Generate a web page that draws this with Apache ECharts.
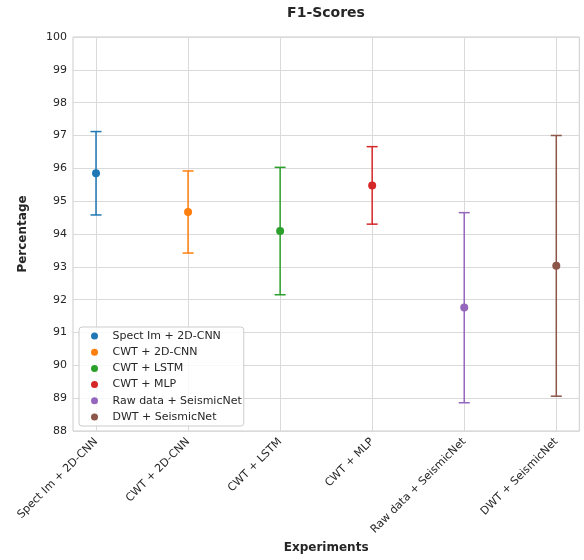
<!DOCTYPE html>
<html><head><meta charset="utf-8">
<script src="https://cdn.jsdelivr.net/npm/echarts@6/dist/echarts.min.js"></script>
<style>html,body{margin:0;padding:0;background:#fff}#c{width:584px;height:560px}</style>
</head><body><div id="c"></div>
<script>
const categories = ['Spect Im + 2D-CNN', 'CWT + 2D-CNN', 'CWT + LSTM', 'CWT + MLP', 'Raw data + SeismicNet', 'DWT + SeismicNet'];
const means = [95.85, 94.67, 94.09, 95.48, 91.76, 93.03];
const lowers = [94.58, 93.42, 92.15, 94.30, 88.86, 89.06];
const uppers = [97.12, 95.92, 96.03, 96.66, 94.65, 97.00];
const colors = ['#1f77b4', '#ff7f0e', '#2ca02c', '#d62728', '#9467bd', '#8c564b'];
const positions = [0, 1, 2, 3, 4, 5];

const FONT = 'DejaVu Sans';
const chart = echarts.init(document.getElementById('c'), null, {renderer: 'canvas'});

const series = [{
  type: 'custom',
  name: 'errorbars',
  z: 2,
  silent: true,
  data: positions.map(i => [i, lowers[i], uppers[i]]),
  renderItem(params, api) {
    const x = api.value(0);
    const lo = api.coord([x, api.value(1)]);
    const hi = api.coord([x, api.value(2)]);
    const style = {stroke: colors[x], lineWidth: 1.5, fill: null};
    const w = 5.5;
    return {type: 'group', children: [
      {type: 'line', shape: {x1: lo[0], y1: lo[1], x2: hi[0], y2: hi[1]}, style},
      {type: 'line', shape: {x1: hi[0] - w, y1: hi[1], x2: hi[0] + w, y2: hi[1]}, style},
      {type: 'line', shape: {x1: lo[0] - w, y1: lo[1], x2: lo[0] + w, y2: lo[1]}, style}
    ]};
  }
}];
positions.forEach(i => {
  series.push({
    type: 'scatter',
    name: categories[i],
    z: 3,
    symbol: 'circle',
    symbolSize: 8,
    itemStyle: {color: colors[i], opacity: 1},
    data: [[i, means[i]]]
  });
});

chart.setOption({
  animation: false,
  backgroundColor: '#ffffff',
  textStyle: {fontFamily: FONT},
  title: {
    text: 'F1-Scores',
    left: 326,
    textAlign: 'center',
    top: 6,
    padding: 0,
    textStyle: {fontFamily: FONT, fontSize: 14, fontWeight: 'bold', color: '#262626'}
  },
  grid: {
    left: 73, right: 4.7, top: 37, bottom: 129,
    outerBoundsMode: 'none',
    containLabel: false,
    show: true, borderColor: '#cccccc', borderWidth: 1, backgroundColor: 'transparent'
  },
  legend: {
    orient: 'vertical',
    left: 79, top: 327,
    data: categories,
    selectedMode: false,
    icon: 'circle',
    itemWidth: 26, itemHeight: 7, itemGap: 0.2,
    padding: [1, 2, 1, 12],
    borderColor: '#cccccc', borderWidth: 1, borderRadius: 3,
    backgroundColor: 'rgba(255,255,255,0.8)',
    textStyle: {fontFamily: FONT, fontSize: 11, lineHeight: 16, color: '#262626'}
  },
  xAxis: {
    type: 'value',
    min: -0.25, max: 5.25,
    name: 'Experiments',
    nameLocation: 'middle',
    nameGap: 111,
    nameTextStyle: {fontFamily: FONT, fontSize: 12, fontWeight: 'bold', color: '#262626'},
    axisLine: {show: false},
    axisTick: {show: false, customValues: positions},
    axisLabel: {
      customValues: positions,
      rotate: 45, margin: 9,
      fontFamily: FONT, fontSize: 11, color: '#262626',
      formatter: v => categories[Math.round(v)]
    },
    splitLine: {show: true, lineStyle: {color: '#dadada', width: 1}}
  },
  yAxis: {
    type: 'value',
    min: 88, max: 100, interval: 1,
    name: 'Percentage',
    nameLocation: 'middle',
    nameGap: 44,
    nameTextStyle: {fontFamily: FONT, fontSize: 12, fontWeight: 'bold', color: '#262626'},
    axisLine: {show: false},
    axisTick: {show: false},
    axisLabel: {margin: 6, fontFamily: FONT, fontSize: 11, color: '#262626'},
    splitLine: {show: true, lineStyle: {color: '#dadada', width: 1}}
  },
  series
});
</script>
</body></html>
